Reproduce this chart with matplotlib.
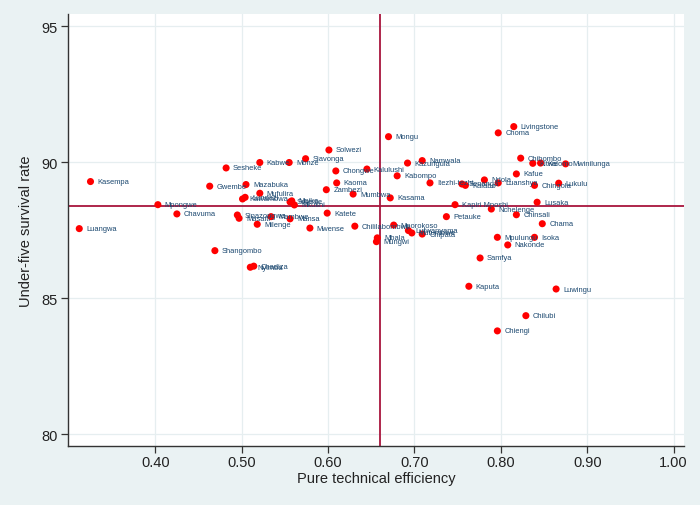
import matplotlib
matplotlib.use("Agg")
import matplotlib.pyplot as plt

# district, pure technical efficiency, under-five survival rate
districts = [
    "Kasempa", "Sesheke", "Kabwe", "Gwembe", "Mazabuka", "Mufulira", "Lundazi",
    "Kawambwa", "Mpongwe", "Chavuma", "Sinazongwe", "Masaiti", "Mambwe", "Mansa",
    "Milenge", "Luangwa", "Shangombo", "Solwezi", "Siavonga", "Monze", "Chongwe",
    "Kalulushi", "Kaoma", "Zambezi", "Mumbwa", "Kasama", "Serenje", "Mkushi",
    "Mpika", "Katete", "Mwense", "Chililabombwe", "Mbala", "Mungwi", "Nyimba",
    "Chadiza", "Livingstone", "Choma", "Mongu", "Namwala", "Kazungula", "Kabompo",
    "Itezhi-tezhi", "Senanga", "Kalabo", "Ndola", "Luanshya", "Chibombo", "Kitwe",
    "Kalomo", "Mwinilunga", "Kafue", "Chingola", "Lukulu", "Lusaka",
    "Kapiri Mposhi", "Nchelenge", "Chinsali", "Chama", "Petauke", "Mporokoso",
    "Lufwanyama", "Mufumbwe", "Chipata", "Mpulungu", "Isoka", "Nakonde", "Samfya",
    "Kaputa", "Luwingu", "Chilubi", "Chiengi",
]
pte = [
    0.325, 0.482, 0.521, 0.463, 0.505, 0.521, 0.504,
    0.501, 0.403, 0.425, 0.495, 0.497, 0.534, 0.556,
    0.518, 0.312, 0.469, 0.601, 0.574, 0.555, 0.609,
    0.645, 0.610, 0.598, 0.629, 0.672, 0.556, 0.561,
    0.558, 0.599, 0.579, 0.631, 0.657, 0.656, 0.510,
    0.514, 0.815, 0.797, 0.670, 0.709, 0.692, 0.680,
    0.718, 0.755, 0.759, 0.781, 0.797, 0.823, 0.837,
    0.846, 0.875, 0.818, 0.839, 0.867, 0.842,
    0.747, 0.789, 0.818, 0.848, 0.737, 0.676,
    0.693, 0.697, 0.709, 0.796, 0.839, 0.808, 0.776,
    0.763, 0.864, 0.829, 0.796,
]
u5sr = [
    89.29, 89.79, 89.99, 89.12, 89.18, 88.86, 88.71,
    88.65, 88.44, 88.10, 88.06, 87.94, 88.00, 87.92,
    87.72, 87.56, 86.75, 90.45, 90.13, 89.99, 89.68,
    89.75, 89.24, 88.99, 88.83, 88.69, 88.54, 88.43,
    88.58, 88.13, 87.58, 87.65, 87.22, 87.08, 86.14,
    86.18, 91.31, 91.08, 90.94, 90.06, 89.97, 89.50,
    89.24, 89.20, 89.15, 89.35, 89.24, 90.15, 89.96,
    89.97, 89.94, 89.57, 89.15, 89.23, 88.53,
    88.44, 88.28, 88.07, 87.74, 88.00, 87.69,
    87.49, 87.40, 87.36, 87.24, 87.24, 86.96, 86.48,
    85.44, 85.34, 84.36, 83.80,
]
mean_pte = 0.660
mean_u5sr = 88.38

xticks = [0.4, 0.5, 0.6, 0.7, 0.8, 0.9, 1.0]
yticks = [80, 85, 90, 95]

bg = "#eaf2f3"
plt.rcParams["font.family"] = ["Liberation Sans", "DejaVu Sans"]

fig = plt.figure(figsize=(7, 5.06), dpi=100, facecolor=bg)
ax = fig.add_axes([0.0967, 0.1172, 0.881, 0.8532])
ax.set_facecolor("white")

ax.set_xlim(0.2986, 1.0125)
ax.set_ylim(79.58, 95.45)

for xt in xticks:
    ax.axvline(xt, color="#e6eef0", lw=0.9, zorder=0)
for yt in yticks:
    ax.axhline(yt, color="#e6eef0", lw=0.9, zorder=0)

ax.axvline(mean_pte, color="#a8153d", lw=1.3, zorder=1)
ax.axhline(mean_u5sr, color="#a8153d", lw=1.3, zorder=1)

ax.scatter(pte, u5sr, s=26, color="#ff0000", edgecolors="none", zorder=3)
for name, x, y in zip(districts, pte, u5sr):
    ax.annotate(name, (x, y), xytext=(5, 0), textcoords="offset points",
                fontsize=5.4, color="#1a476f", va="center", ha="left", zorder=4)

ax.set_xticks(xticks)
ax.set_xticklabels(["%.2f" % v for v in xticks])
ax.set_yticks(yticks)
ax.tick_params(axis="both", direction="out", length=5, width=0.9,
               color="#333333", labelsize=10.5, labelcolor="#222222", pad=2)

for side in ["top", "right"]:
    ax.spines[side].set_visible(False)
for side in ["left", "bottom"]:
    ax.spines[side].set_color("#333333")
    ax.spines[side].set_linewidth(1.0)

ax.set_xlabel("Pure technical efficiency", fontsize=10.5, color="#222222", labelpad=1)
ax.set_ylabel("Under-five survival rate", fontsize=10.5, color="#222222", labelpad=6)

fig.savefig("out.png", dpi=100, facecolor=bg)
